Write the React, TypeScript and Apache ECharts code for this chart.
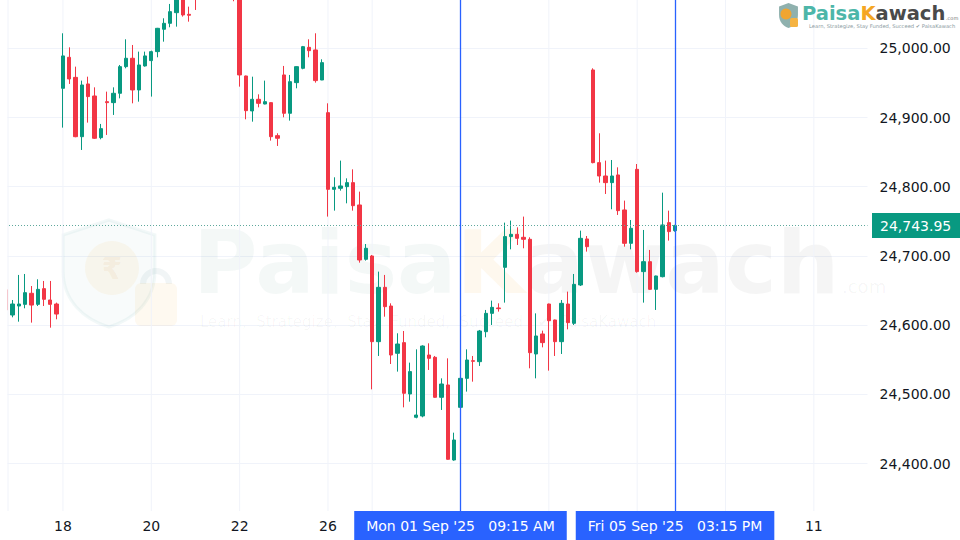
import React, { useEffect, useRef } from "react";
import * as echarts from "echarts";

// ---------- categories (hourly NSE sessions) ----------
const dayKeys = [
  "13 Aug", "14 Aug", "18 Aug", "19 Aug", "20 Aug", "21 Aug", "22 Aug",
  "25 Aug", "26 Aug", "28 Aug", "29 Aug", "01 Sep", "02 Sep", "03 Sep",
  "04 Sep", "05 Sep", "08 Sep", "09 Sep", "10 Sep", "11 Sep", "12 Sep",
];
const sessionHours = ["09:15", "10:15", "11:15", "12:15", "13:15", "14:15", "15:15"];
const allSlots: string[] = [];
dayKeys.forEach((d) => sessionHours.forEach((h) => allSlots.push(`${d} ${h}`)));
const categories = allSlots.slice(5, 142); // from 13 Aug 14:15 to 12 Sep 10:15

// ---------- x tick labels ----------
const tickDays = ["18 Aug", "20 Aug", "22 Aug", "26 Aug", "28 Aug", "01 Sep", "03 Sep", "05 Sep", "09 Sep", "11 Sep"];
const tickLabels = ["18", "20", "22", "26", "28", "Sep", "3", "5", "9", "11"];
const shownTickLabels = ["18", "20", "22", "26", "11"];

// ---------- candles (open / close / low / high) ----------
const opens = [
  24651, 24614.6, 24627.6, 24630, 24646, 24630, 24652.7, 24636.3, 24630.5,
  24942.2, 24987, 24958, 24872.3, 24948.5, 24931.1, 24870.9,
  24922.9, 24921.5, 24935, 24973.5, 24985.6, 24939.8, 24974.5,
  24982.2, 24995.2, 25027.5, 25036.1, 25051.5, 25078, 25049.1,
  25142, 25095, 25112, 25102, 25093, 25099, 25088,
  25078, 24960, 24909.5, 24926.3, 24919.5, 24921.5, 24873.8,
  24961.5, 24906.1, 24950.4, 24971.1, 25001.4, 24997.6, 24954.2,
  24907, 24796.2, 24797.7, 24800.1, 24805.9, 24773.6, 24695.1,
  24699.9, 24576.1, 24654.6, 24627.6, 24559.3, 24574.7, 24500.5,
  24466.8, 24468.7, 24556.8, 24553.5, 24495.7, 24513.5, 24405.1,
  24481.2, 24523.1, 24548.6, 24547.2, 24590.5, 24617, 24624.8,
  24683.5, 24727.9, 24731.2, 24726.9, 24724, 24558.3, 24587.2,
  24630.5, 24607.4, 24576.1, 24630.5, 24602.6, 24658, 24724.5,
  24968.7, 24834.8, 24815.5, 24805.9, 24817, 24766.4, 24718.2,
  24825.1, 24677.3, 24691.7, 24651.7, 24670, 24748.1, 24736.5,
];
const closes = [
  24622, 24630.5, 24630.5, 24646.9, 24629, 24651.7, 24637.3, 24630, 24616,
  24989, 24955.7, 24872.3, 24947, 24930.2, 24870, 24883.9,
  24921.5, 24935, 24973.5, 24985.6, 24939.8, 24975.9, 24989,
  24995.2, 25028.9, 25036.1, 25053, 25082, 25048.2, 25047.7,
  25095, 25112, 25102, 25093, 25099, 25088, 25083,
  24961.5, 24909.9, 24926.3, 24920.5, 24922.9, 24872.3, 24870,
  24906.1, 24951.8, 24973.5, 25002.4, 24996.6, 24953.3, 24979.3,
  24796.2, 24799.1, 24801.1, 24805.9, 24772.6, 24694.1, 24711,
  24576.1, 24654.6, 24626.7, 24556.8, 24572.7, 24501.5, 24532.8,
  24470.1, 24569.8, 24552, 24495.7, 24514.9, 24406.1, 24434,
  24523.1, 24549.6, 24547.7, 24591.5, 24617, 24625.7, 24623.8,
  24727.9, 24731.2, 24725.4, 24724, 24560.2, 24584.3, 24574.7,
  24606.4, 24576.1, 24631.5, 24603.6, 24658.9, 24725.4, 24713.4,
  24834.8, 24815.5, 24805.9, 24815.5, 24765.4, 24718.2, 24739.9,
  24677.3, 24691.7, 24651.7, 24671, 24744.7, 24735.1, 24743.95,
];
const lows = [
  24615, 24611.3, 24605, 24624.3, 24603.6, 24627.6, 24627.6, 24596.3, 24608.4,
  24885.4, 24948.5, 24871.5, 24853.1, 24892.6, 24869, 24868.5,
  24874.8, 24903.7, 24927.7, 24971.1, 24920.5, 24922.9, 24973.5,
  24930.2, 24987, 25009.6, 25030.4, 25031.3, 25045.8, 25038.5,
  25055.4, 25085, 25092, 25080, 25084, 25079, 25068,
  24944.6, 24897.4, 24894, 24914.7, 24919, 24866.6, 24858.9,
  24900.3, 24895.5, 24942.2, 24969.7, 24987, 24950.4, 24954,
  24756.8, 24765.4, 24794.3, 24776, 24765.4, 24690.3, 24693.2,
  24507.2, 24555.4, 24612.2, 24543.8, 24532.8, 24481.2, 24489.4,
  24465.3, 24466.8, 24535.2, 24495, 24477.4, 24405.5, 24404.1,
  24479.8, 24503.9, 24518.3, 24541, 24582.4, 24600.2, 24619.5,
  24632.5, 24709.5, 24715.8, 24711, 24537.6, 24523.1, 24567.9,
  24534.2, 24555.4, 24558.3, 24593.9, 24600.2, 24656.5, 24706.2,
  24833.8, 24805.9, 24789.5, 24767.4, 24759.2, 24713.4, 24709.5,
  24675.8, 24632.5, 24651, 24621.9, 24669, 24722.1, 24735,
];
const highs = [
  24660, 24636.3, 24672.5, 24673.9, 24656.5, 24666.2, 24663.8, 24663.8, 24632.5,
  25021.7, 25001.4, 24973.5, 24953.3, 24959, 24943.6, 24890.7,
  24937.4, 24943.6, 24975.9, 25013, 25004.8, 24995.2, 24995.2,
  24996.6, 25029.5, 25043.4, 25064.1, 25088, 25086, 25060.2,
  25153, 25120, 25118, 25108, 25105, 25104, 25096,
  25090, 24960.5, 24959, 24933.5, 24953.3, 24922, 24877.2,
  24974.5, 24961.5, 24974, 25003.4, 25013, 25021.7, 24984.1,
  24920.5, 24813.6, 24837.7, 24812.1, 24825.1, 24792.9, 24717.2,
  24701.4, 24677.3, 24672.5, 24631.5, 24588.2, 24591.5, 24545.8,
  24565, 24570.8, 24573.7, 24555.4, 24523.1, 24552, 24444.6,
  24559.3, 24565, 24555.4, 24593, 24621.9, 24635.4, 24631.5,
  24748.1, 24751, 24741.3, 24756.8, 24726.9, 24617, 24592,
  24631, 24608, 24636.3, 24648.4, 24673.9, 24736.5, 24728.8,
  24971.1, 24877.2, 24837.7, 24838.6, 24828, 24779.9, 24751.9,
  24832.8, 24737.5, 24708.6, 24671.5, 24791.4, 24765.4, 24745,
];

const lastPrice = 24743.95;
const crossStart = "01 Sep 09:15";
const crossEnd = "05 Sep 15:15";
const crossStartLabel = "Mon 01 Sep '25   09:15 AM";
const crossEndLabel = "Fri 05 Sep '25   03:15 PM";

const FONT = "DejaVu Sans";
const UP = "#089981";
const DOWN = "#f23645";
const BLUE = "#2962ff";

const fmtPrice = (v: number) =>
  v.toLocaleString("en-US", { minimumFractionDigits: 2, maximumFractionDigits: 2 });

const SHIELD =
  "M50 0 L95 14 L95 48 C95 76 74 93 50 100 C26 93 5 76 5 48 L5 14 Z";
let shapesRegistered = false;
function registerShapes() {
  if (shapesRegistered) return;
  echarts.graphic.registerShape("shield", echarts.graphic.extendPath(SHIELD, {}) as any);
  shapesRegistered = true;
}

export default function App() {
  const ref = useRef<HTMLDivElement>(null);

  useEffect(() => {
    if (!ref.current) return;
    registerShapes();
    const chart = echarts.init(ref.current, null, { renderer: "svg" });

    const candleData = opens.map((o, i) => [o, closes[i], lows[i], highs[i]]);
    const dayStartLabel: Record<string, string> = {};
    tickDays.forEach((d, i) => (dayStartLabel[`${d} 09:15`] = tickLabels[i]));

    const option: any = {
      animation: false,
      backgroundColor: "#ffffff",
      grid: { left: 3, right: 92.5, top: 0, bottom: 29, containLabel: false },
      xAxis: {
        type: "category",
        data: categories,
        boundaryGap: true,
        axisLine: { show: false },
        axisTick: { show: false },
        splitLine: { show: false },
        axisLabel: {
          color: "#131722",
          fontSize: 14,
          fontFamily: FONT,
          margin: 8,
          interval: (_i: number, v: string) =>
            shownTickLabels.includes(dayStartLabel[v] || "#"),
          formatter: (v: string) => dayStartLabel[v] || "",
        },
      },
      yAxis: {
        type: "value",
        position: "right",
        min: 24331.4,
        max: 25069.8,
        splitNumber: 7,
        axisLine: { show: false },
        axisTick: { show: false },
        axisLabel: {
          color: "#131722",
          fontSize: 14,
          fontFamily: FONT,
          margin: 12,
          showMinLabel: false,
          showMaxLabel: false,
          formatter: (v: number) => (Math.abs(v % 100) < 1e-6 ? fmtPrice(v) : ""),
        },
        splitLine: {
          lineStyle: { color: "#f0f3fa", width: 1 },
          showMinLine: false,
          showMaxLine: false,
        },
      },
      series: [
        {
          type: "custom",
          z: 1,
          silent: true,
          data: tickDays.map((d) => [`${d} 09:15`, 24500]),
          encode: { x: 0, y: 1 },
          renderItem: (params: any, api: any) => {
            const x = api.coord([api.value(0), 24500])[0];
            const cs = params.coordSys;
            return {
              type: "line",
              shape: { x1: x, y1: cs.y, x2: x, y2: cs.y + cs.height },
              style: { stroke: "#f0f3fa", lineWidth: 1 },
            };
          },
        },
        {
          type: "candlestick",
          z: 3,
          barWidth: 3.8,
          data: candleData,
          itemStyle: {
            color: UP,
            color0: DOWN,
            borderColor: UP,
            borderColor0: DOWN,
            borderWidth: 1,
          },
          markLine: {
            silent: true,
            symbol: ["none", "none"],
            animation: false,
            data: [
              {
                xAxis: crossStart,
                lineStyle: { color: BLUE, width: 1.3, type: "solid" },
                label: { show: false },
              },
              {
                xAxis: crossEnd,
                lineStyle: { color: BLUE, width: 1.3, type: "solid" },
                label: { show: false },
              },
              {
                yAxis: lastPrice,
                lineStyle: { color: "#5fa89c", width: 1, type: [1, 2] },
                label: {
                  show: true,
                  position: "end",
                  distance: 4.5,
                  formatter: fmtPrice(lastPrice),
                  color: "#ffffff",
                  backgroundColor: UP,
                  fontFamily: FONT,
                  fontSize: 14,
                  lineHeight: 15,
                  padding: [5, 9, 5, 8],
                },
              },
            ],
          },
        },
      ],
    };
    chart.setOption(option);

    const xs = chart.convertToPixel({ xAxisIndex: 0 }, crossStart) as number;
    const xe = chart.convertToPixel({ xAxisIndex: 0 }, crossEnd) as number;
    const boxTop = 511;

    const faint = "rgba(60,130,125,0.06)";
    const graphic: any[] = [
      // ---- watermark ----
      {
        type: "shield",
        x: 58,
        y: 220,
        scaleX: 1.02,
        scaleY: 1.07,
        z: 0,
        silent: true,
        style: { fill: "rgba(90,160,160,0.045)", stroke: "rgba(90,160,160,0.08)", lineWidth: 3 },
      },
      {
        type: "circle",
        z: 0,
        silent: true,
        shape: { cx: 112, cy: 268, r: 27 },
        style: { fill: "rgba(245,170,40,0.07)" },
      },
      {
        type: "text",
        z: 0,
        silent: true,
        x: 112,
        y: 268,
        style: {
          text: "₹",
          fill: "rgba(200,130,30,0.08)",
          font: `bold 30px ${FONT}`,
          align: "center",
          verticalAlign: "middle",
        },
      },
      {
        type: "arc",
        z: 0,
        silent: true,
        shape: { cx: 156, cy: 284, r: 13, startAngle: Math.PI, endAngle: 0 },
        style: { stroke: "rgba(120,160,170,0.1)", lineWidth: 6, fill: "none" },
      },
      {
        type: "rect",
        z: 0,
        silent: true,
        shape: { x: 135, y: 283, width: 42, height: 43, r: 6 },
        style: { fill: "rgba(245,170,40,0.07)" },
      },
      {
        type: "text",
        z: 0,
        silent: true,
        x: 193,
        y: 262,
        style: {
          text: "{p|Paisa}{k|K}{w|awach}",
          verticalAlign: "middle",
          align: "left",
          rich: {
            p: { fill: faint, font: `bold 88px ${FONT}`, lineHeight: 70 },
            k: { fill: "rgba(245,170,40,0.08)", font: `bold 88px ${FONT}`, lineHeight: 70 },
            w: { fill: "rgba(0,0,0,0.04)", font: `bold 88px ${FONT}`, lineHeight: 70 },
          },
        },
      },
      {
        type: "text",
        z: 0,
        silent: true,
        x: 842,
        y: 286,
        style: { text: ".com", fill: "rgba(0,0,0,0.045)", font: `18px ${FONT}`, verticalAlign: "middle", lineHeight: 14 },
      },
      {
        type: "text",
        z: 0,
        silent: true,
        x: 200,
        y: 322,
        style: {
          text: "Learn,  Strategize,  Stay  Funded,  Succeed   ✔  PaisaKawach",
          fill: "rgba(0,0,0,0.035)",
          font: `15px ${FONT}`,
          verticalAlign: "middle",
          lineHeight: 14,
        },
      },
      // ---- left mask & pane border ----
      {
        type: "rect",
        z: 100,
        silent: true,
        shape: { x: 0, y: 0, width: 7.5, height: 540 },
        style: { fill: "#ffffff" },
      },
      {
        type: "line",
        z: 100,
        silent: true,
        shape: { x1: 8, y1: 0, x2: 8, y2: 511 },
        style: { stroke: "#f0f3fa", lineWidth: 1 },
      },
      // ---- top right logo ----
      {
        type: "shield",
        x: 778,
        y: 3,
        scaleX: 0.21,
        scaleY: 0.25,
        z: 100,
        silent: true,
        style: { fill: "#8fb1ae" },
      },
      {
        type: "circle",
        z: 101,
        silent: true,
        shape: { cx: 786, cy: 14, r: 5.5 },
        style: { fill: "#f0a531" },
      },
      {
        type: "rect",
        z: 101,
        silent: true,
        shape: { x: 790, y: 18, width: 8, height: 9, r: 1.5 },
        style: { fill: "#f5b342" },
      },
      {
        type: "text",
        z: 100,
        silent: true,
        x: 802,
        y: 13,
        style: {
          text: "{p|Paisa}{k|K}{w|awach}",
          verticalAlign: "middle",
          rich: {
            p: { fill: "#4db6a9", font: `bold 19.5px ${FONT}` },
            k: { fill: "#f5a623", font: `bold 19.5px ${FONT}` },
            w: { fill: "#4a4a4a", font: `bold 19.5px ${FONT}` },
          },
        },
      },
      {
        type: "text",
        z: 100,
        silent: true,
        x: 946,
        y: 18,
        style: { text: ".com", fill: "#777", font: `5px ${FONT}`, verticalAlign: "middle" },
      },
      {
        type: "text",
        z: 100,
        silent: true,
        x: 809,
        y: 26,
        style: {
          text: "Learn, Strategize, Stay Funded, Succeed ✔ PaisaKawach",
          fill: "#8a9aa0",
          font: `5.2px ${FONT}`,
          verticalAlign: "middle",
        },
      },
      // ---- crosshair time labels ----
      {
        type: "text",
        z: 120,
        silent: true,
        x: xs,
        y: boxTop,
        style: {
          text: crossStartLabel,
          fill: "#ffffff",
          font: `14px ${FONT}`,
          align: "center",
          verticalAlign: "top",
          lineHeight: 17,
          backgroundColor: BLUE,
          padding: [6, 12, 6, 12],
        },
      },
      {
        type: "text",
        z: 120,
        silent: true,
        x: xe,
        y: boxTop,
        style: {
          text: crossEndLabel,
          fill: "#ffffff",
          font: `14px ${FONT}`,
          align: "center",
          verticalAlign: "top",
          lineHeight: 17,
          backgroundColor: BLUE,
          padding: [6, 12, 6, 12],
        },
      },
    ];
    chart.setOption({ graphic });

    return () => chart.dispose();
  }, []);

  return (
    <div
      ref={ref}
      style={{ position: "fixed", left: 0, top: 0, width: 960, height: 540, background: "#fff" }}
    />
  );
}
